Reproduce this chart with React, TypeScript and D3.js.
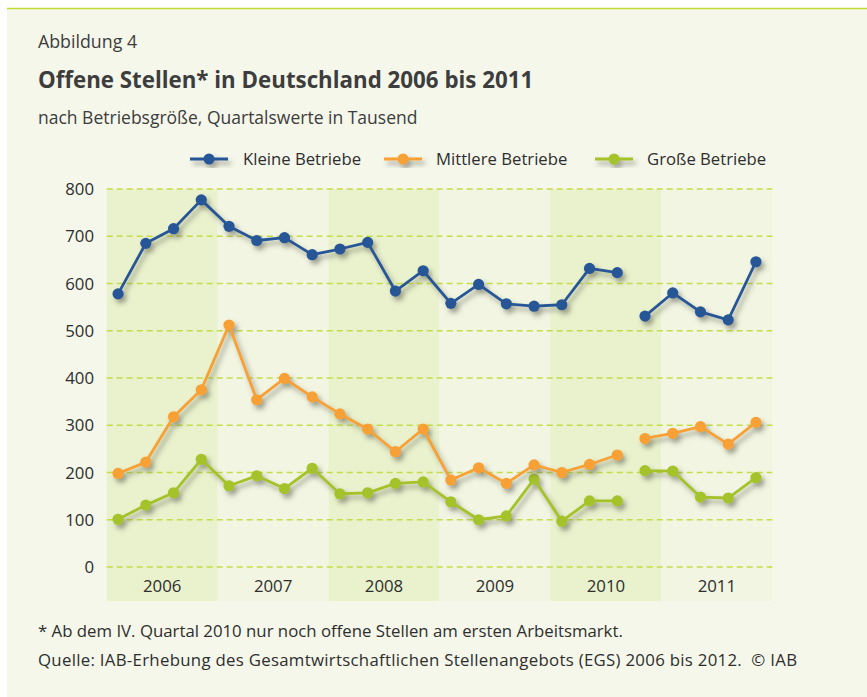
import React from 'react';
import * as d3 from 'd3';

// Quartalswerte in Tausend, I/2006 bis IV/2011
const years = ['2006', '2007', '2008', '2009', '2010', '2011'];
const kleine = [578, 685, 716, 777, 721, 691, 697, 661, 673, 687, 584, 627, 558, 598, 557, 552, 555, 632, 623, 531, 580, 540, 523, 646];
const mittlere = [198, 222, 318, 375, 512, 354, 399, 360, 324, 292, 244, 292, 184, 210, 177, 216, 200, 217, 237, 272, 283, 297, 260, 306];
const grosse = [101, 131, 157, 228, 172, 193, 166, 209, 155, 157, 177, 180, 138, 100, 108, 186, 97, 140, 140, 204, 203, 148, 146, 189];
const seriesNames = ['Kleine Betriebe', 'Mittlere Betriebe', 'Große Betriebe'];
const yTicks = [0, 100, 200, 300, 400, 500, 600, 700, 800];
// ab IV/2010 neue Abgrenzung -> Linie wird unterbrochen
const breakIndex = 19;

const colors = ['#275796', '#f7a035', '#a5c22b'];
const font = "'Open Sans', 'Noto Sans', sans-serif";

export default function App() {
  const width = 867;
  const height = 697;

  const x = d3.scaleLinear().domain([0, 24]).range([106.7, 772.3]);
  const y = d3.scaleLinear().domain([0, 800]).range([567, 189]);
  const px = (i: number) => x(i + 0.41);

  const allSeries = [kleine, mittlere, grosse];

  const pathFor = (vals: number[], from: number, to: number) => {
    const idx = d3.range(from, to);
    return d3.line<number>().x(i => px(i)).y(i => y(vals[i]))(idx) || '';
  };

  return (
    <svg width={width} height={height} style={{ position: 'absolute', left: 0, top: 0 }} fontFamily={font}>
      <defs>
        <filter id="shadow" x="-10%" y="-10%" width="130%" height="140%">
          <feDropShadow dx="3" dy="4" stdDeviation="2.4" floodColor="#4a4a3a" floodOpacity="0.5" />
        </filter>
      </defs>
      <rect x={0} y={0} width={width} height={height} fill="#ffffff" />
      <rect x={7} y={8} width={width - 7} height={height - 8} fill="#f5f7ea" />
      <line x1={7} x2={width} y1={8.5} y2={8.5} stroke="#c3da32" strokeWidth={1.5} />

      <text x={38} y={48} fontSize={17.8} fill="#3d3d3d">Abbildung 4</text>
      <text x={38} y={88} fontSize={22.3} fontWeight="bold" fill="#3d3d3d">Offene Stellen* in Deutschland 2006 bis 2011</text>
      <text x={38} y={124} fontSize={17.5} fill="#3d3d3d">nach Betriebsgröße, Quartalswerte in Tausend</text>

      {/* legend */}
      {[[190, 243], [384, 436], [595, 647]].map(([lx, tx], k) => (
        <g key={k}>
          <g filter="url(#shadow)">
            <line x1={lx} x2={lx + 38} y1={159} y2={159} stroke={colors[k]} strokeWidth={3} />
            <circle cx={lx + 19} cy={159} r={5.5} fill={colors[k]} />
          </g>
          <text x={tx} y={165} fontSize={16.7} fill="#2e2e2e">{seriesNames[k]}</text>
        </g>
      ))}

      {/* year bands */}
      {years.map((yr, k) => (
        <g key={yr}>
          <rect x={x(k * 4)} y={189} width={x(k * 4 + 4) - x(k * 4)} height={412}
            fill={k % 2 === 0 ? '#e9f1cd' : '#f1f5e1'} />
          <text x={x(k * 4 + 2)} y={592} textAnchor="middle" fontSize={16.8} fill="#2e2e2e">{yr}</text>
        </g>
      ))}

      {/* grid + y labels */}
      {yTicks.map(t => (
        <g key={t}>
          <line x1={x(0)} x2={x(24)} y1={y(t)} y2={y(t)} stroke="#c6dc48" strokeWidth={1.3} strokeDasharray="6,4" />
          <text x={94} y={y(t) + 6} textAnchor="end" fontSize={16.8} fill="#2e2e2e">{t}</text>
        </g>
      ))}

      {/* series */}
      {allSeries.slice().reverse().map((vals, rk) => {
        const k = 2 - rk;
        return (
          <g key={k} filter="url(#shadow)">
            <path d={pathFor(vals, 0, breakIndex)} fill="none" stroke={colors[k]} strokeWidth={2.8} strokeLinejoin="round" />
            <path d={pathFor(vals, breakIndex, vals.length)} fill="none" stroke={colors[k]} strokeWidth={2.8} strokeLinejoin="round" />
            {vals.map((v, i) => (
              <circle key={i} cx={px(i)} cy={y(v)} r={5.6} fill={colors[k]} />
            ))}
          </g>
        );
      })}

      <text x={38} y={637} fontSize={16.8} fill="#2e2e2e">* Ab dem IV. Quartal 2010 nur noch offene Stellen am ersten Arbeitsmarkt.</text>
      <text x={38} y={666} fontSize={16.8} fill="#2e2e2e" textLength={759} lengthAdjust="spacing" xmlSpace="preserve">Quelle: IAB-Erhebung des Gesamtwirtschaftlichen Stellenangebots (EGS) 2006 bis 2012.  © IAB</text>
    </svg>
  );
}
